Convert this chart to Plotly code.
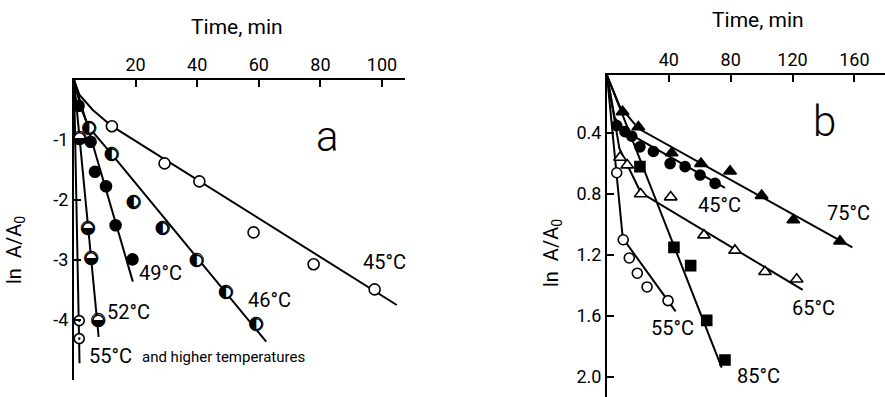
import plotly.graph_objects as go

W, H = 885, 397

# ---------------- Panel a data (time, min ; ln A/A0) ----------------
a45_t = [12.3, 29.4, 40.7, 58.3, 77.8, 97.6]
a45_v = [-0.77, -1.39, -1.69, -2.54, -3.07, -3.49]
a46_t = [5.0, 12.3, 19.4, 28.8, 39.9, 49.4, 59.2]
a46_v = [-0.80, -1.24, -2.03, -2.47, -3.01, -3.54, -4.07]
a49_t = [1.5, 5.4, 6.8, 10.4, 13.5, 19.0]
a49_v = [-0.43, -1.03, -1.53, -1.77, -2.42, -2.99]
a52_t = [1.8, 4.6, 5.6, 7.9]
a52_v = [-0.97, -2.47, -2.97, -4.01]
a55_t = [1.7, 1.7]
a55_v = [-4.01, -4.31]

# fitted curves, panel a
a45_line_t = [0, 1.8, 6.1, 12.3, 104.8]
a45_line_v = [0, -0.25, -0.5, -0.77, -3.75]
a46_line_t = [0, 2.3, 5.0, 12.3, 62.4]
a46_line_v = [0, -0.48, -0.80, -1.24, -4.36]
a49_line_t = [0, 19.1]
a49_line_v = [0, -3.36]
a52_line_t = [0, 8.0]
a52_line_v = [0, -4.28]
a55_line_t = [0, 1.8]
a55_line_v = [0, -4.72]

a_xticks = [20, 40, 60, 80, 100]
a_yticks = [-1, -2, -3, -4]
a_yticktext = ["-1", "-2", "-3", "-4"]

# ---------------- Panel b data ----------------
b45_t = [6.3, 11.6, 16, 21.3, 30, 40.8, 50.5, 60.2, 69.9]
b45_v = [0.35, 0.39, 0.42, 0.49, 0.52, 0.60, 0.62, 0.675, 0.73]
b75_t = [10.1, 20.3, 41.8, 60.8, 79.6, 100, 120.5, 150.7]
b75_v = [0.26, 0.36, 0.53, 0.60, 0.65, 0.81, 0.97, 1.11]
b85_t = [21.3, 43.3, 54.1, 64.5, 76.3]
b85_v = [0.62, 1.15, 1.27, 1.63, 1.89]
b65_t = [8.4, 13.1, 21.8, 41.2, 62.7, 82.8, 102.2, 122.7]
b65_v = [0.56, 0.61, 0.80, 0.82, 1.07, 1.17, 1.31, 1.36]
b55_t = [6.3, 10.5, 14.4, 19.6, 25.9, 39.5]
b55_v = [0.66, 1.10, 1.22, 1.32, 1.41, 1.50]

b75_line_t = [0, 8, 20.3, 158.7]
b75_line_v = [0.02, 0.22, 0.37, 1.15]
b45_line_t = [0, 5, 12, 76.3]
b45_line_v = [0.02, 0.30, 0.39, 0.76]
b85_line_t = [0, 74.2]
b85_line_v = [0.02, 1.94]
b65_line_t = [0, 8, 21.8, 126.6]
b65_line_v = [0.02, 0.50, 0.79, 1.43]
b55_line_t = [0, 6.3, 10.2, 44.4]
b55_line_v = [0.02, 0.66, 1.09, 1.57]

b_xticks = [40, 80, 120, 160]
b_yticks = [0.4, 0.8, 1.2, 1.6, 2.0]
b_yticktext = ["0.4", "0.8", "1.2", "1.6", "2.0"]

FONT = "Roboto"
BLACK = "black"

fig = go.Figure()


def line(t, v, xa, ya):
    fig.add_trace(go.Scatter(x=t, y=v, mode="lines", xaxis=xa, yaxis=ya,
                             line=dict(color=BLACK, width=2), hoverinfo="skip",
                             showlegend=False))


def marks(t, v, xa, ya, symbol, fill, size=11):
    fig.add_trace(go.Scatter(x=t, y=v, mode="markers", xaxis=xa, yaxis=ya,
                             marker=dict(symbol=symbol, size=size, color=fill,
                                         line=dict(color=BLACK, width=1.6)),
                             showlegend=False))


def glyphs(t, v, xa, ya, ch, size=19):
    # white disc under the glyph so lines don't show through
    marks(t, v, xa, ya, "circle", "white", 11)
    fig.add_trace(go.Scatter(x=t, y=v, mode="text", xaxis=xa, yaxis=ya,
                             text=[ch] * len(t), textposition="middle center",
                             textfont=dict(family="DejaVu Sans", size=size, color=BLACK),
                             showlegend=False))


# panel a
for lt, lv in [(a45_line_t, a45_line_v), (a46_line_t, a46_line_v), (a49_line_t, a49_line_v),
               (a52_line_t, a52_line_v), (a55_line_t, a55_line_v)]:
    line(lt, lv, "x", "y")
marks(a45_t, a45_v, "x", "y", "circle", "white")
glyphs(a46_t, a46_v, "x", "y", "\u25D0")
marks(a49_t, a49_v, "x", "y", "circle", BLACK)
glyphs(a52_t, a52_v, "x", "y", "\u25D2")
marks(a55_t, a55_v, "x", "y", "circle-dot", "white", 10)

# panel b
for lt, lv in [(b75_line_t, b75_line_v), (b45_line_t, b45_line_v), (b85_line_t, b85_line_v),
               (b65_line_t, b65_line_v), (b55_line_t, b55_line_v)]:
    line(lt, lv, "x2", "y2")
marks(b45_t, b45_v, "x2", "y2", "circle", BLACK, 10)
marks(b75_t, b75_v, "x2", "y2", "triangle-up", BLACK, 11)
marks(b85_t, b85_v, "x2", "y2", "square", BLACK, 10)
marks(b65_t, b65_v, "x2", "y2", "triangle-up", "white", 11)
marks(b55_t, b55_v, "x2", "y2", "circle", "white", 10)


def px(x):
    return x / W


def py(y):
    return 1 - y / H


axis_common = dict(showline=True, linecolor=BLACK, linewidth=2, showgrid=False,
                   zeroline=False, ticks="inside", tickcolor=BLACK, tickwidth=2,
                   ticklen=7, tickfont=dict(family=FONT, size=18, color=BLACK))

fig.update_layout(
    width=W, height=H, margin=dict(l=0, r=0, t=0, b=0),
    paper_bgcolor="white", plot_bgcolor="white", showlegend=False,
    xaxis=dict(domain=[px(74), px(405)], range=[0, (405 - 74) / 3.08], side="top",
               anchor="y", tickvals=a_xticks, **axis_common),
    yaxis=dict(domain=[py(380), py(80)], range=[-5, 0], anchor="x",
               tickvals=a_yticks, ticktext=a_yticktext, **axis_common),
    xaxis2=dict(domain=[px(607), 1.0], range=[0, (885 - 607) / 1.546], side="top",
                anchor="y2", tickvals=b_xticks, **axis_common),
    yaxis2=dict(domain=[0, py(75)], range=[2.133, 0.018], anchor="x2",
                tickvals=b_yticks, ticktext=b_yticktext, **axis_common),
)

ann = []


def text(x, y, s, size=20, xanchor="center", angle=0, family=FONT, weight=400):
    ann.append(dict(x=px(x), y=py(y), xref="paper", yref="paper", text=s,
                    showarrow=False, xanchor=xanchor, yanchor="middle",
                    textangle=angle,
                    font=dict(family=family, size=size, color=BLACK, weight=weight)))


text(237, 27, "Time, min", 21)
text(758, 20, "Time, min", 21)
text(15, 250, "ln  A/A<sub>0</sub>", 20, angle=-90)
text(552, 253, "ln  A/A<sub>0</sub>", 20, angle=-90)
text(327, 137, "a", 42, weight=300)
text(824, 121, "b", 42, weight=300)

text(384, 261.5, "45°C")
text(269, 300, "46°C")
text(160, 273, "49°C")
text(128, 311.5, "52°C")
text(87, 355.5, "55°C", xanchor="left")
text(140, 357, "and higher temperatures", 15, xanchor="left")

text(719, 205, "45°C")
text(848, 213, "75°C")
text(813, 308, "65°C")
text(672, 328, "55°C")
text(758, 375.5, "85°C")

fig.update_layout(annotations=ann)
fig.write_html("out.html", config={"displayModeBar": False},
               post_script="document.body.style.margin='0';document.body.style.overflow='hidden';")
